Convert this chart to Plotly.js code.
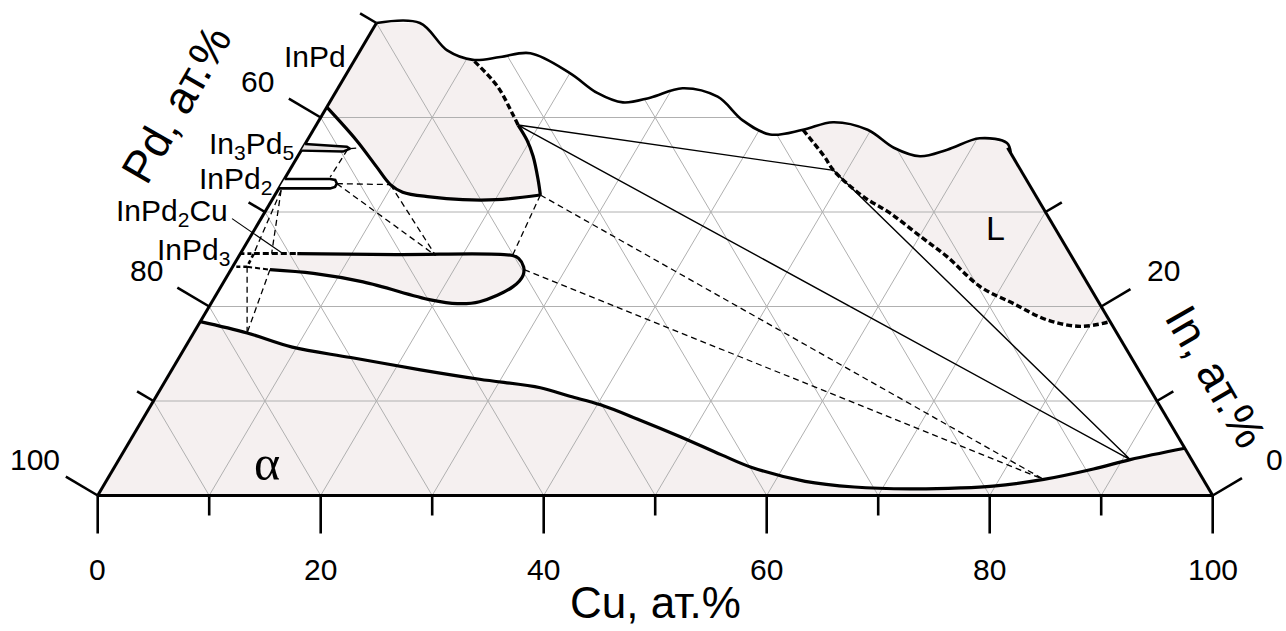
<!DOCTYPE html>
<html><head><meta charset="utf-8">
<script src="https://cdn.plot.ly/plotly-3.0.1.min.js"></script>
<style>html,body{margin:0;padding:0;background:#fff;}#chart{width:1286px;height:631px;}</style>
</head><body><div id="chart"></div>
<script>
// ---------- data: compositions [at.% Cu, at.% In] (Pd = 100 - Cu - In) ----------
// wavy break line at the top of the section
const breakCu = [0, 3.9, 7.8, 10.6, 12.9, 15.4, 20.0, 23.5, 26.3, 28.5, 30.9, 34.5, 38.0, 41.2, 43.9, 46.2, 49.7, 53.0, 55.8, 57.9, 60.2, 62.9, 63.8];
const breakIn = [50.0, 50.0, 47.1, 46.1, 46.4, 46.8, 44.7, 42.6, 41.6, 42.1, 43.1, 42.2, 39.7, 38.2, 38.7, 39.5, 38.7, 36.8, 35.9, 36.6, 37.8, 37.3, 36.2];
// alpha solid solution boundary
const alphaCu = [0, 4.8, 9.6, 15.4, 22.3, 28.1, 34.0, 37.1, 40.3, 44.6, 49.2, 53.8, 57.1, 62.7, 67.4, 72.5, 77.0, 79.8, 84.0, 87.9, 90.7, 95.0];
const alphaIn = [18.4, 17.2, 15.7, 14.6, 13.3, 12.3, 11.4, 10.5, 9.6, 8.0, 6.2, 4.3, 3.0, 1.5, 0.9, 0.7, 0.8, 1.0, 1.7, 2.8, 3.8, 5.0];
// InPd homogeneity field
const inPdLowCu = [0, 4.4, 7.6, 9.8, 11.3, 14.0, 17.1, 20.1, 23.8];
const inPdLowIn = [41.1, 37.6, 34.8, 32.9, 32.1, 31.6, 31.3, 31.3, 31.8];
const inPdSideCu = [23.8, 22.8, 21.1, 19.7, 18.1];
const inPdSideIn = [31.8, 33.4, 35.9, 37.6, 39.2];
const inPdLiqCu = [18.1, 17.0, 14.2, 10.6];
const inPdLiqIn = [39.2, 40.4, 43.3, 46.1];
// liquid (L) boundary
const liqCu = [43.9, 47.2, 48.8, 52.9, 56.1, 60.1, 63.5, 68.1, 72.0, 75.8, 79.2, 81.6];
const liqIn = [38.7, 35.9, 34.4, 31.6, 29.9, 27.4, 25.3, 22.1, 20.3, 18.6, 17.9, 18.4];
// InPd2Cu field
const cuPhaseCu = [5.1, 14.0, 24.5, 25.2, 26.1, 26.5, 26.2, 24.0, 22.1, 19.5, 12.5, 7.6, 3.5];
const cuPhaseIn = [25.6, 25.5, 25.4, 25.1, 24.2, 23.3, 22.1, 20.5, 20.3, 20.7, 22.6, 23.5, 23.9];
const cuPhaseDashCu = [1.2, 2.7, 5.1];
const cuPhaseDashIn = [25.6, 25.6, 25.6];
const cuPhaseDashLowCu = [1.3, 3.5];
const cuPhaseDashLowIn = [24.2, 23.9];
// narrow binary phases
const in3pd5Cu = [0, 3.9, 4.3, 3.8, 0];
const in3pd5In = [37.2, 36.9, 36.7, 36.4, 36.5];
const inPd2Cu = [0, 4.1, 4.6, 4.95, 4.96, 4.6, 0];
const inPd2In = [33.5, 33.5, 33.4, 33.0, 32.65, 32.5, 32.5];
const inPd3Cu = [0, 1.2, 1.3, 0];
const inPd3In = [25.6, 25.6, 24.2, 24.2];
// tie lines
const solidTieCu = [18.1, 48.8, 90.7, 18.1];
const solidTieIn = [39.2, 34.4, 3.8, 39.2];
const dashTieStart = [[4.3,36.7],[4.1,36.6],[4.95,33.0],[4.95,33.0],[9.8,32.9],[23.8,31.8],[23.8,31.8],[26.3,23.9],[0.3,32.3],[0.3,32.3],[1.3,24.2],[3.5,23.9]];
const dashTieEnd   = [[5.1,36.8],[4.0,33.7],[9.8,32.9],[17.6,25.4],[17.6,25.4],[24.5,25.4],[84.0,1.7],[84.0,1.7],[2.8,25.6],[1.2,25.6],[4.8,17.2],[4.8,17.2]];
// label leader line for InPd2Cu
const leaderCu = [-2.6, 3.8];
const leaderIn = [29.3, 25.6];
// axes
const cuTicks = [0, 10, 20, 30, 40, 50, 60, 70, 80, 90, 100];
const cuTickLabels = [0, 20, 40, 60, 80, 100];
const pdTicks = [100, 90, 80, 70, 60, 50];
const pdTickLabels = [100, 80, 60];
const inTicks = [0, 10, 20, 30];
const inTickLabels = [0, 20];
const gridStep = 10;
const leftEdgeTopIn = 50, rightEdgeTopIn = 36.8;

// ---------- geometry helpers ----------
const SX = 11.15, SY = 9.45, X0 = 97.7, Y0 = 495.5, W = 1286, H = 631;
const toX = (cu, inn) => cu + inn / 2;
const rev = a => a.slice().reverse();
function pts(cuArr, inArr) { return { x: cuArr.map((c, i) => toX(c, inArr[i])), y: inArr.slice() }; }
function cart(cu, inn) { return [toX(cu, inn), inn]; }
function pix(px, py) { return [(px - X0) / SX, (Y0 - py) / SY]; }
function shift(p, dpx, dpy) { return [p[0] + dpx / SX, p[1] - dpy / SY]; }

const traces = [];
function add(xy, opts) { traces.push(Object.assign({ type: 'scatter', mode: 'lines', x: xy.x, y: xy.y, hoverinfo: 'skip', showlegend: false, cliponaxis: true }, opts)); }
const SHADE = '#f5f0f0';
function fillPoly(cuArr, inArr, color) { add(pts(cuArr, inArr), { fill: 'toself', fillcolor: color, line: { width: 0, color: color } }); }
function segs(list) { const x = [], y = []; list.forEach(s => { x.push(s[0][0], s[1][0], null); y.push(s[0][1], s[1][1], null); }); return { x, y }; }

// ---------- shaded fields ----------
fillPoly([0, 100].concat(rev(alphaCu)), [0, 0].concat(rev(alphaIn)), SHADE);
fillPoly(breakCu.slice(0, 4).concat(rev(inPdLiqCu), rev(inPdSideCu), rev(inPdLowCu)),
         breakIn.slice(0, 4).concat(rev(inPdLiqIn), rev(inPdSideIn), rev(inPdLowIn)), SHADE);
fillPoly(liqCu.concat(rev(breakCu.slice(14))), liqIn.concat(rev(breakIn.slice(14))), SHADE);
fillPoly([2.7].concat(cuPhaseCu), [25.6].concat(cuPhaseIn), SHADE);

// ---------- grid ----------
const grid = [];
for (let v = gridStep; v < leftEdgeTopIn; v += gridStep) grid.push([cart(0, v), cart(100 - v, v)]);
for (let c = gridStep; c < 100; c += gridStep) grid.push([cart(c, 0), cart(c, Math.min(100 - c, leftEdgeTopIn))]);
for (let c = gridStep; c < 100; c += gridStep) { const t = Math.min(c, leftEdgeTopIn); grid.push([cart(c, 0), cart(c - t, t)]); }
add(segs(grid), { line: { color: '#b0b0b0', width: 1 } });

// ---------- top break line + mask above it ----------
const br = pts(breakCu, breakIn);
add(br, { line: { color: '#000', width: 2.6, shape: 'spline' } });
add({ x: [br.x[0], br.x[br.x.length - 1]], y: [70, 70] }, { fill: 'tonexty', fillcolor: '#ffffff', line: { width: 0, color: '#ffffff' } });

// ---------- triangle edges ----------
add(segs([[cart(0, 0), cart(100, 0)], [cart(0, 0), cart(0, leftEdgeTopIn)], [cart(100, 0), cart(100 - rightEdgeTopIn, rightEdgeTopIn)]]),
    { line: { color: '#000', width: 3 } });

// ---------- ticks ----------
const tickSegs = [];
const ann = [];
const FONT = 'Liberation Sans, Arial, sans-serif';
const nL = [-0.861, -0.508], nR = [0.861, -0.508];
cuTicks.forEach(c => {
  const b = cart(c, 0), len = (c % 20 === 0) ? 38 : 20;
  tickSegs.push([b, shift(b, 0, len)]);
  if (cuTickLabels.includes(c)) { const p = shift(b, 0, 74); ann.push({ x: p[0], y: p[1], text: String(c), size: 30 }); }
});
pdTicks.forEach(pd => {
  const inn = 100 - pd, b = cart(0, inn), len = (pd % 20 === 0) ? 37 : 19;
  tickSegs.push([b, shift(b, nL[0] * len, nL[1] * len)]);
  if (pdTickLabels.includes(pd)) { const p = shift(b, -63, -36); ann.push({ x: p[0], y: p[1], text: String(pd), size: 30 }); }
});
inTicks.forEach(inn => {
  const b = cart(100 - inn, inn), len = (inn % 20 === 0) ? 34 : 19;
  tickSegs.push([b, shift(b, nR[0] * len, nR[1] * len)]);
  if (inTickLabels.includes(inn)) { const p = shift(b, 62, -36); ann.push({ x: p[0], y: p[1], text: String(inn), size: 30 }); }
});
add(segs(tickSegs), { line: { color: '#000', width: 2.6 } });

// ---------- phase boundaries ----------
const thick = { color: '#000', width: 3.2, shape: 'spline' };
add(pts(alphaCu, alphaIn), { line: thick });
add(pts(inPdLowCu, inPdLowIn), { line: thick });
add(pts(inPdSideCu, inPdSideIn), { line: thick });
add(pts(cuPhaseCu, cuPhaseIn), { line: thick });
add(pts(inPdLiqCu, inPdLiqIn), { line: { color: '#000', width: 3.4, dash: '6px,3px', shape: 'spline' } });
add(pts(liqCu, liqIn), { line: { color: '#000', width: 3.4, dash: '6px,3px', shape: 'spline' } });
add(pts(cuPhaseDashCu, cuPhaseDashIn), { line: { color: '#000', width: 3, dash: '6px,3px' } });
add(pts(cuPhaseDashLowCu, cuPhaseDashLowIn), { line: { color: '#000', width: 2, dash: '5px,3px' } });
add(pts(inPd3Cu, inPd3In), { line: { color: '#000', width: 2.6, dash: '4px,3px' } });
add(pts(in3pd5Cu, in3pd5In), { fill: 'toself', fillcolor: '#e8e4e4', line: { color: '#000', width: 2.4 } });
add(pts(inPd2Cu, inPd2In), { fill: 'toself', fillcolor: '#ffffff', line: { color: '#000', width: 2.6 } });

// ---------- tie lines ----------
add(pts(solidTieCu, solidTieIn), { line: { color: '#000', width: 1.4 } });
add(segs(dashTieStart.map((s, i) => [cart(s[0], s[1]), cart(dashTieEnd[i][0], dashTieEnd[i][1])])),
    { line: { color: '#000', width: 1.3, dash: '6px,4px' } });
add(pts(leaderCu, leaderIn), { line: { color: '#000', width: 1.2 } });

// ---------- labels ----------
function label(p, text, size, opts) {
  return Object.assign({ x: p[0], y: p[1], xref: 'x', yref: 'y', text: text, showarrow: false,
    font: { family: FONT, size: size, color: '#000' }, xanchor: 'center', yanchor: 'middle' }, opts || {});
}
const annotations = ann.map(a => label([a.x, a.y], a.text, a.size));
annotations.push(label(pix(655, 629), 'Cu, ат.%', 44, { yanchor: 'bottom' }));
annotations.push(label(pix(176, 104), 'Pd, ат.%', 45, { textangle: -60 }));
annotations.push(label(pix(1216, 376), 'In, ат.%', 45, { textangle: 60 }));
annotations.push(label(pix(315, 56), 'InPd', 30));
annotations.push(label(pix(296, 145), 'In<sub>3</sub>Pd<sub>5</sub>', 30, { xanchor: 'right' }));
annotations.push(label(pix(274, 180), 'InPd<sub>2</sub>', 30, { xanchor: 'right' }));
annotations.push(label(pix(230, 212), 'InPd<sub>2</sub>Cu', 30, { xanchor: 'right' }));
annotations.push(label(pix(232, 251), 'InPd<sub>3</sub>', 30, { xanchor: 'right' }));
annotations.push(label(pix(995, 228), 'L', 34));
annotations.push(label(pix(267, 463), 'α', 50, { font: { family: 'Liberation Serif, Times New Roman, serif', size: 50, color: '#000' } }));

const layout = {
  width: W, height: H, margin: { l: 0, r: 0, t: 0, b: 0, pad: 0 },
  paper_bgcolor: '#fff', plot_bgcolor: '#fff', showlegend: false,
  xaxis: { range: [-X0 / SX, (W - X0) / SX], visible: false, fixedrange: true },
  yaxis: { range: [(Y0 - H) / SY, Y0 / SY], visible: false, fixedrange: true },
  annotations: annotations
};
Plotly.newPlot('chart', traces, layout, { staticPlot: true, displayModeBar: false });
</script></body></html>
